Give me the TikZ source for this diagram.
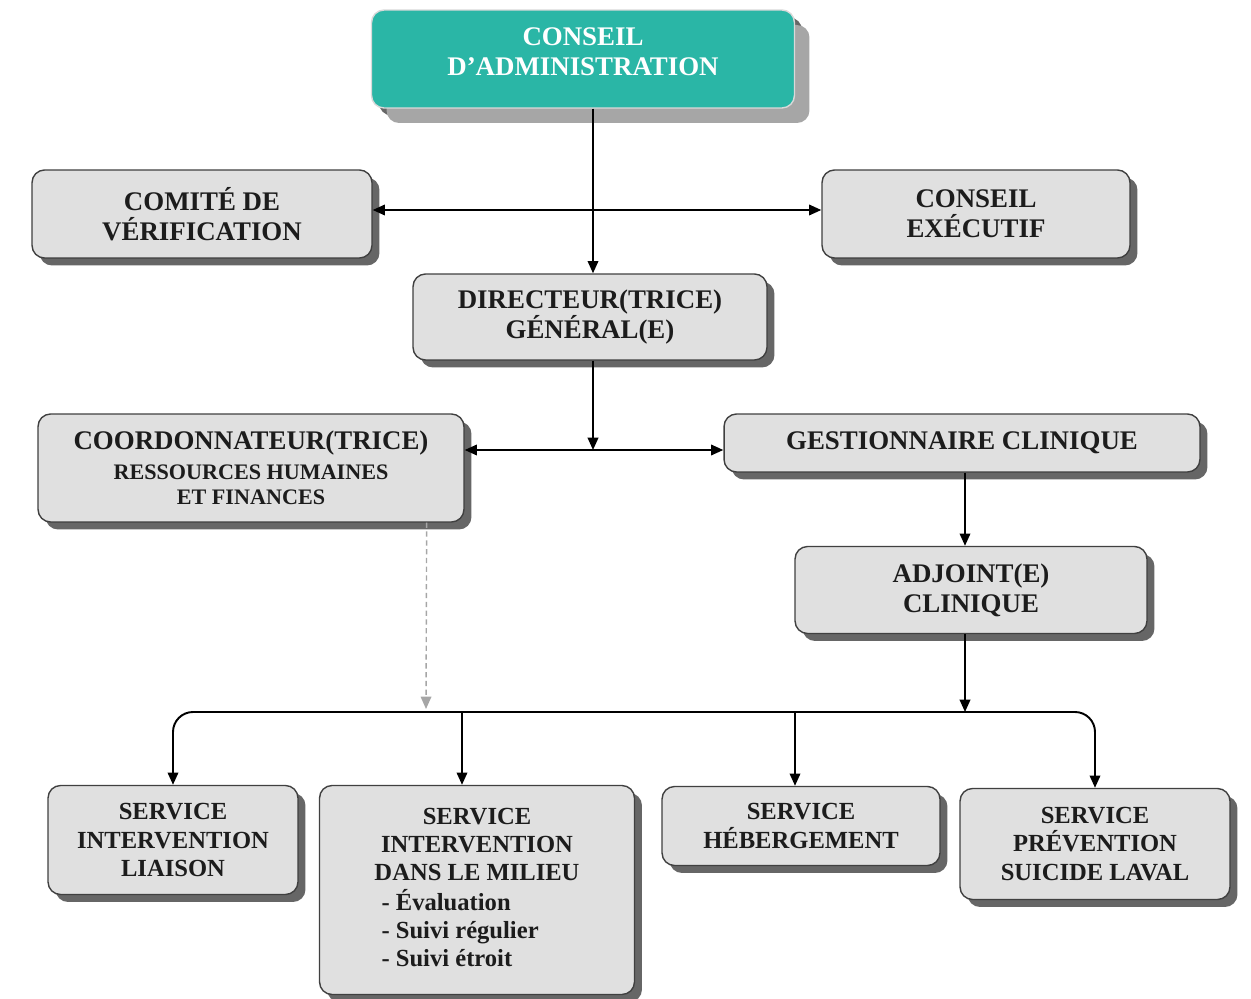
\documentclass[tikz,border=0pt]{standalone}
\usepackage{fontspec}
\setmainfont{Liberation Serif}
\usetikzlibrary{positioning, arrows.meta, shadows, calc}
\definecolor{tealca}{RGB}{42,182,166}
\definecolor{boxgray}{RGB}{224,224,224}
\definecolor{textdark}{RGB}{28,28,28}
\newcommand{\smalltxt}{\fontsize{12.6}{14}\selectfont}

\begin{document}
\begin{tikzpicture}[x=0.02cm, y=-0.02cm,
  unit/.style={draw=black!75, line width=0.8pt, rounded corners=0.25cm, fill=boxgray,
    text=textdark, font=\bfseries\fontsize{15.3}{17}\selectfont, align=center, inner sep=0pt,
    drop shadow={shadow xshift=0.15cm, shadow yshift=-0.15cm, fill=black!60, opacity=1}},
  service/.style={unit, font=\bfseries\fontsize{14}{16}\selectfont},
  board/.style={unit, draw=white!85!black, fill=tealca, text=white,
    drop shadow={shadow xshift=0.3cm, shadow yshift=-0.3cm, fill=black!35, opacity=1}},
  link/.style={line width=1.1pt, -{Triangle[length=7pt,width=6pt]}},
  twoway/.style={line width=1.1pt, {Triangle[length=7pt,width=6pt]}-{Triangle[length=7pt,width=6pt]}},
  dotlink/.style={line width=0.8pt, densely dashed, black!35, -{Triangle[length=7pt,width=6pt]}}]
\useasboundingbox (0,0) rectangle (1251,999);

\node[board, minimum width=8.46cm, minimum height=1.96cm, text depth=8pt] (ca) at (583,59) {CONSEIL\\D’ADMINISTRATION};
\node[unit, minimum width=6.8cm, minimum height=1.76cm] (comite) at (202,214) {COMITÉ DE\\VÉRIFICATION};
\node[unit, minimum width=6.16cm, minimum height=1.76cm] (exec) at (976,214) {CONSEIL\\EXÉCUTIF};
\node[unit, minimum width=7.08cm, minimum height=1.72cm] (dir) at (590,317) {DIRECTEUR(TRICE)\\GÉNÉRAL(E)};
\node[unit, minimum width=8.52cm, minimum height=2.16cm] (coord) at (251,468)
  {COORDONNATEUR(TRICE)\\\smalltxt RESSOURCES HUMAINES\\[-3pt]\smalltxt ET FINANCES};
\node[unit, minimum width=9.52cm, minimum height=1.16cm] (gest) at (962,443) {GESTIONNAIRE CLINIQUE};
\node[unit, minimum width=7.04cm, minimum height=1.74cm] (adj) at (971,590) {ADJOINT(E)\\CLINIQUE};
\node[service, minimum width=5cm, minimum height=2.18cm] (sil) at (173,840) {SERVICE\\INTERVENTION\\LIAISON};
\node[service, minimum width=6.3cm, minimum height=4.18cm] (milieu) at (477,890)
  {\begin{tabular}{@{}l@{}}
   \multicolumn{1}{@{}c@{}}{SERVICE}\\
   \multicolumn{1}{@{}c@{}}{INTERVENTION}\\
   DANS LE MILIEU\\
   \hspace{4pt}- Évaluation\\
   \hspace{4pt}- Suivi régulier\\
   \hspace{4pt}- Suivi étroit
   \end{tabular}};
\node[service, minimum width=5.56cm, minimum height=1.58cm] (heb) at (801,826) {SERVICE\\HÉBERGEMENT};
\node[service, minimum width=5.4cm, minimum height=2.22cm] (spsl) at (1095,844) {SERVICE\\PRÉVENTION\\SUICIDE LAVAL};

\coordinate (mid) at (593,450);
\coordinate (bus) at (965,712);
\coordinate (crossline) at (593,210);
\coordinate (milieutop) at ($(milieu.north)+(-15,0)$);
\coordinate (hebtop) at ($(heb.north)+(-6,0)$);
\coordinate (dotstart) at ($(coord.south east)+(-38,0)$);
\coordinate (dotend) at (426,709);

\draw[link] (ca.south -| mid) -- (dir.north -| mid);
\draw[twoway] (comite.east |- crossline) -- (exec.west |- crossline);
\draw[link] (dir.south -| mid) -- (mid);
\draw[twoway] (coord.east |- mid) -- (gest.west |- mid);
\draw[link] (gest.south -| bus) -- (adj.north -| bus);
\draw[link] (adj.south -| bus) -- (bus);
\draw[line width=1.1pt, rounded corners=0.4cm, -{Triangle[length=7pt,width=6pt]}] (bus) -| (sil.north);
\draw[line width=1.1pt, rounded corners=0.4cm, -{Triangle[length=7pt,width=6pt]}] (bus) -| (spsl.north);
\draw[link] (milieutop |- bus) -- (milieutop);
\draw[link] (hebtop |- bus) -- (hebtop);
\draw[dotlink] (dotstart) -- (dotend);
\end{tikzpicture}
\end{document}
